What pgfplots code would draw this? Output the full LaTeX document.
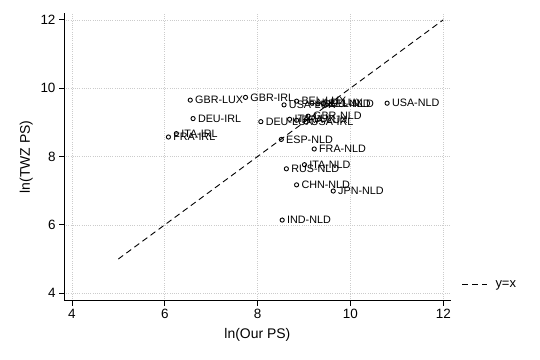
\documentclass[border=0pt]{standalone}
\usepackage{fontspec}
\setmainfont{Liberation Sans}
\usepackage{pgfplots}
\usepackage{pgfplotstable}
\pgfplotsset{compat=1.18}
\pgfplotstableread{
label x y
GBR-LUX 6.55 9.65
GBR-IRL 7.74 9.73
DEU-IRL 6.61 9.11
ITA-IRL 6.25 8.67
FRA-IRL 6.08 8.57
DEU-LUX 8.07 9.02
USA-LUX 8.57 9.51
BEL-LUX 8.84 9.62
NLD-LUX 9.17 9.56
DEU-NLD 9.30 9.54
BEL-NLD 9.42 9.55
USA-NLD 10.79 9.56
ITA-LUX 8.69 9.09
FRA-LUX 8.84 9.06
GBR-NLD 9.09 9.18
USA-IRL 9.04 9.01
ESP-NLD 8.51 8.50
FRA-NLD 9.22 8.22
ITA-NLD 9.01 7.76
RUS-NLD 8.62 7.64
CHN-NLD 8.84 7.17
JPN-NLD 9.63 6.99
IND-NLD 8.53 6.14
}\pts
\begin{document}
\begin{tikzpicture}
\begin{axis}[
  at={(0,0)}, anchor=south west,
  scale only axis,
  width=386.7bp, height=287.7bp,
  xmin=3.83, xmax=12.16, ymin=3.78, ymax=12.2,
  xtick={4,6,8,10,12}, ytick={4,6,8,10,12},
  axis x line*=bottom, axis y line*=left,
  axis line style={-, line width=0.8pt},
  tick align=outside, major tick length=5bp,
  tick style={black, line width=0.7pt},
  grid=major, grid style={gray!40, line width=0.6pt, dash pattern=on 0.6bp off 1.6bp},
  /pgf/number format/assume math mode=true,
  ticklabel style={font=\fontsize{13.5}{15}\selectfont},
  xlabel={ln(Our PS)}, ylabel={ln(TWZ PS)},
  label style={font=\fontsize{14}{16}\selectfont},
  xlabel style={yshift=-3bp},
  ylabel style={yshift=1bp},
  legend style={draw=none, fill=none, at={(rel axis cs:1.02,0.055)}, anchor=west,
    font=\fontsize{13}{15}\selectfont},
  legend cell align=left,
  legend image code/.code={\draw[#1] (0bp,0bp) -- (25bp,0bp); \path (31bp,0bp);},
]
\addplot[only marks, mark=o, mark size=2.1bp, mark options={line width=0.9pt, black},
  nodes near coords, point meta=explicit symbolic,
  every node near coord/.style={anchor=west, inner sep=0.5bp, xshift=4bp, font=\fontsize{10.8}{12}\selectfont, black},
  forget plot] table[x=x, y=y, meta=label] {\pts};
\addplot[black, line width=0.9pt, dash pattern=on 6bp off 4bp] coordinates {(5,5) (12,12)};
\addlegendentry{y=x}
\end{axis}
\path[use as bounding box] (-64bp,-59.3bp) rectangle (476bp,300.7bp);
\end{tikzpicture}
\end{document}
